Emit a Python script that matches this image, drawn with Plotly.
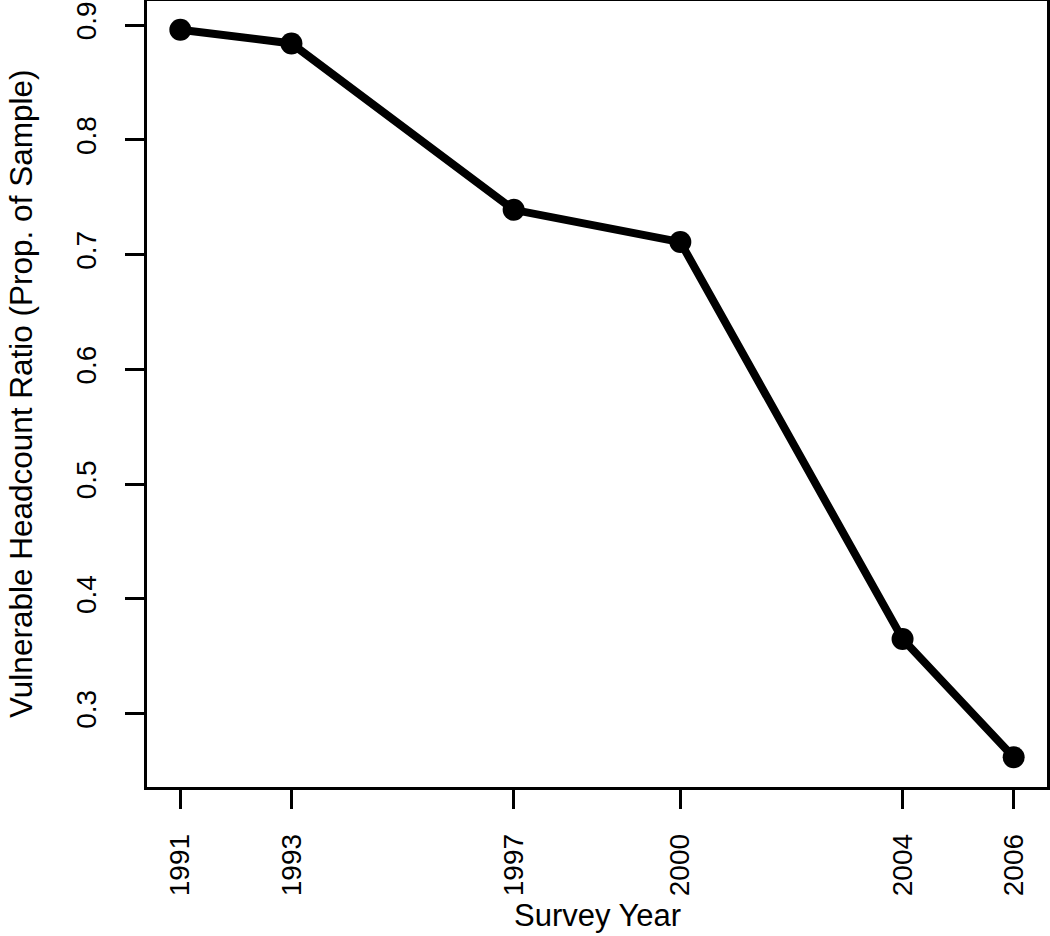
import plotly.graph_objects as go

# Survey years and vulnerable headcount ratio
years = [1991, 1993, 1997, 2000, 2004, 2006]
ratio = [0.896, 0.884, 0.739, 0.711, 0.365, 0.262]

y_ticks = [0.3, 0.4, 0.5, 0.6, 0.7, 0.8, 0.9]
y_tick_text = ["0.3", "0.4", "0.5", "0.6", "0.7", "0.8", "0.9"]

font_family = "Liberation Sans, Arial, sans-serif"

fig = go.Figure()

fig.add_trace(go.Scatter(
    x=years,
    y=ratio,
    mode='lines+markers',
    line=dict(color='black', width=8),
    marker=dict(color='black', size=22, symbol='circle'),
    showlegend=False
))

axis_style = dict(
    ticks='outside',
    ticklen=19,
    tickwidth=2.5,
    tickcolor='black',
    showline=True,
    linecolor='black',
    linewidth=2.5,
    mirror=True,
    showgrid=False,
    zeroline=False,
    automargin=False,
    tickangle=-90,
    tickfont=dict(size=28),
)

fig.update_layout(
    width=1050,
    height=936,
    margin=dict(l=147, r=3, t=1, b=149),
    plot_bgcolor='white',
    paper_bgcolor='white',
    font=dict(family=font_family, color='black', size=28),
    xaxis=dict(
        range=[1990.4, 2006.6],
        tickmode='array',
        tickvals=years,
        ticktext=[str(y) for y in years],
        ticklabelstandoff=14,
        **axis_style
    ),
    yaxis=dict(
        range=[0.236, 0.921],
        tickmode='array',
        tickvals=y_ticks,
        ticktext=y_tick_text,
        ticklabelstandoff=18,
        **axis_style
    ),
    annotations=[
        dict(
            text="Survey Year",
            xref='paper', yref='paper',
            x=0.5, y=0,
            xanchor='center', yanchor='middle',
            yshift=-128,
            showarrow=False,
            font=dict(size=31),
        ),
        dict(
            text="Vulnerable Headcount Ratio (Prop. of Sample)",
            xref='paper', yref='paper',
            x=0, y=0.5,
            xanchor='center', yanchor='middle',
            xshift=-126,
            textangle=-90,
            showarrow=False,
            font=dict(size=31.5),
        ),
    ],
)

# drop the default 8px page margin so the figure sits at the window corner
fig.write_html("out.html", config={"displayModeBar": False},
               post_script="document.body.style.margin='0';")
